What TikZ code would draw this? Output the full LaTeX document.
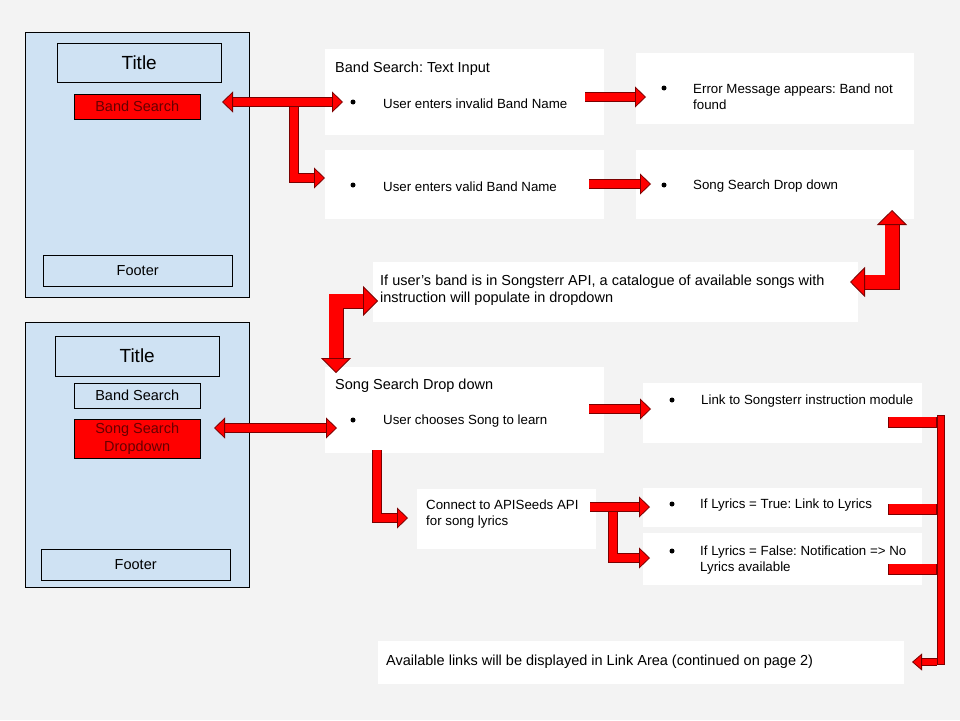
\documentclass[tikz,border=0pt]{standalone}
\usepackage{fontspec}
\setmainfont{Liberation Sans}
\usetikzlibrary{positioning, arrows.meta}
\definecolor{pagebg}{HTML}{F3F3F3}
\definecolor{screenblue}{HTML}{CFE2F3}
\definecolor{arrowred}{HTML}{FF0000}
\definecolor{arrowline}{HTML}{7A0000}
\definecolor{activetext}{HTML}{660000}
\newcommand{\itemfont}{\fontsize{13.3}{16}\selectfont}
\newcommand{\headfont}{\fontsize{14.5}{17}\selectfont}
\newcommand{\titlefont}{\fontsize{19}{22}\selectfont}
\frenchspacing
\tikzset{
    x=1pt, y=-1pt, % pixel units, y runs down
    >={Triangle[length=11pt, width=21pt, line width=0.8pt, fill=arrowred]},
    screen/.style={draw=black, fill=screenblue, anchor=north west, inner sep=0pt,
        minimum width=224pt, minimum height=265pt},
    widget/.style={draw=black, fill=screenblue, anchor=north west, inner sep=0pt, align=center, font=\headfont},
    active/.style={widget, fill=arrowred, text=activetext},
    panel/.style={fill=white, anchor=north west, inner sep=0pt},
    txt/.style={anchor=west, inner sep=0pt, align=left, yshift=-1.5pt, font=\itemfont},
    head/.style={txt, font=\headfont},
    dot/.style={circle, fill=black, inner sep=0pt, minimum size=5pt},
    flow/.style={draw=arrowline, line width=0.8pt, double=arrowred, double distance=8.4pt, line join=miter},
    bigflow/.style={flow, double distance=13.4pt,
        >={Triangle[length=15pt, width=30pt, line width=0.8pt, fill=arrowred]}},
    bar/.style={flow, double distance=9.4pt, line cap=rect},
}
\begin{document}
\begin{tikzpicture}
    \useasboundingbox (0,0) rectangle (960,720);
    \fill[pagebg] (0,0) rectangle (960,720);

    % screen mock-ups
    \node[screen] (scr1) at (25,32) {};
    \node[widget, minimum width=164pt, minimum height=39pt, font=\titlefont] (title1) at (57,43) {Title};
    \node[active, minimum width=126pt, minimum height=25pt] (band1) at (74,94) {Band Search};
    \node[widget, minimum width=189pt, minimum height=31pt] (foot1) at (43,255) {Footer};

    \node[screen] (scr2) at (25,322) {};
    \node[widget, minimum width=164pt, minimum height=40pt, font=\titlefont] (title2) at (55,336) {Title};
    \node[widget, minimum width=126pt, minimum height=25pt] (band2) at (74,383) {Band Search};
    \node[active, minimum width=126pt, minimum height=39pt, font=\fontsize{14.5}{18}\selectfont] (song2) at (74,419) {Song Search\\Dropdown};
    \node[widget, minimum width=189pt, minimum height=31pt] (foot2) at (41,549) {Footer};

    % panels
    \node[panel, minimum width=279pt, minimum height=86pt] (bsinput) at (325,49) {};
    \node[panel, minimum width=279pt, minimum height=69pt] (bsvalid) at (325,150) {};
    \node[panel, minimum width=278pt, minimum height=71pt] (errmsg) at (636,53) {};
    \node[panel, minimum width=278pt, minimum height=69pt] (songdd) at (636,150) {};
    \node[panel, minimum width=485pt, minimum height=60pt] (catalog) at (373,262) {};
    \node[panel, minimum width=279pt, minimum height=86pt] (sdpanel) at (325,367) {};
    \node[panel, minimum width=279pt, minimum height=60pt] (linkmod) at (643,383) {};
    \node[panel, minimum width=179pt, minimum height=60pt] (apiseed) at (417,489) {};
    \node[panel, minimum width=279pt, minimum height=39pt] (lyrtrue) at (643,488) {};
    \node[panel, minimum width=279pt, minimum height=52pt] (lyrfalse) at (643,533) {};
    \node[panel, minimum width=526pt, minimum height=43pt] (linkarea) at (378,641) {};

    % panel texts
    \node[head] (bshead) at (335,67) {Band Search: Text Input};
    \node[dot] (d1) at (353,102) {};
    \node[txt] (t1) at (383,102) {User enters invalid Band Name};
    \node[dot] (d2) at (353,185) {};
    \node[txt] (t2) at (383,185) {User enters valid Band Name};
    \node[dot] (d3) at (664,88) {};
    \node[txt] (t3) at (693,95.5) {Error Message appears: Band not\\found};
    \node[dot] (d4) at (664,185) {};
    \node[txt] (t4) at (693,185) {Song Search Drop down};
    \node[head] (cattext) at (380,289) {If user’s band is in Songsterr API, a catalogue of available songs with\\instruction will populate in dropdown};
    \node[head] (sdhead) at (335,384) {Song Search Drop down};
    \node[dot] (d5) at (353,420) {};
    \node[txt] (t5) at (383,420) {User chooses Song to learn};
    \node[dot] (d6) at (672,400) {};
    \node[txt] (t6) at (701,400) {Link to Songsterr instruction module};
    \node[txt] (apitext) at (426,513) {Connect to APISeeds API\\for song lyrics};
    \node[dot] (d7) at (672,504) {};
    \node[txt] (t7) at (700,504) {If Lyrics = True: Link to Lyrics};
    \node[dot] (d8) at (672,551) {};
    \node[txt] (t8) at (700,559) {If Lyrics = False: Notification => No\\Lyrics available};
    \node[head] (areatext) at (386,660) {Available links will be displayed in Link Area (continued on page 2)};

    % arrow end points
    \coordinate (bandR) at (222,102);
    \coordinate (inL) at (343,102);
    \coordinate (brTop) at (294,107);
    \coordinate (validL) at (325,178);
    \coordinate (errS) at (585,97);
    \coordinate (errE) at (646,97);
    \coordinate (ddS) at (589,184);
    \coordinate (ddE) at (651,184);
    \coordinate (upTip) at (892,210);
    \coordinate (catR) at (850,282);
    \coordinate (catL) at (378,301);
    \coordinate (sdTop) at (336,373);
    \coordinate (songR) at (214,428);
    \coordinate (sdL) at (337,428);
    \coordinate (modS) at (589,409);
    \coordinate (modE) at (651,409);
    \coordinate (sdBot) at (377,450);
    \coordinate (apiL) at (408,518);
    \coordinate (trueS) at (590,507);
    \coordinate (trueE) at (650,507);
    \coordinate (brLow) at (613,512);
    \coordinate (falseE) at (650,558);

    % arrows
    \draw[flow, <->] (bandR) -- (inL);
    \draw[flow, ->] (brTop) |- (validL);
    \draw[flow, ->] (errS) -- (errE);
    \draw[flow, ->] (ddS) -- (ddE);
    \draw[bigflow, <->] (catR) -| (upTip);
    \draw[bigflow, <->] (catL) -| (sdTop);
    \draw[flow, <->] (songR) -- (sdL);
    \draw[flow, ->] (modS) -- (modE);
    \draw[flow, ->] (sdBot) |- (apiL);
    \draw[flow, ->] (trueS) -- (trueE);
    \draw[flow, ->] (brLow) |- (falseE);

    % collecting bracket
    \draw[bar] (893.5,422) -- (931.5,422);
    \draw[bar] (893.5,509) -- (931.5,509);
    \draw[bar] (893.5,569) -- (931.5,569);
    \draw[flow, double distance=6.4pt, >={Triangle[length=10pt, width=17pt, line width=0.8pt, fill=arrowred]}, ->] (937,662) -- (912,662);
    \draw[bar, double distance=6.4pt] (941,419) -- (941,661);
\end{tikzpicture}
\end{document}
